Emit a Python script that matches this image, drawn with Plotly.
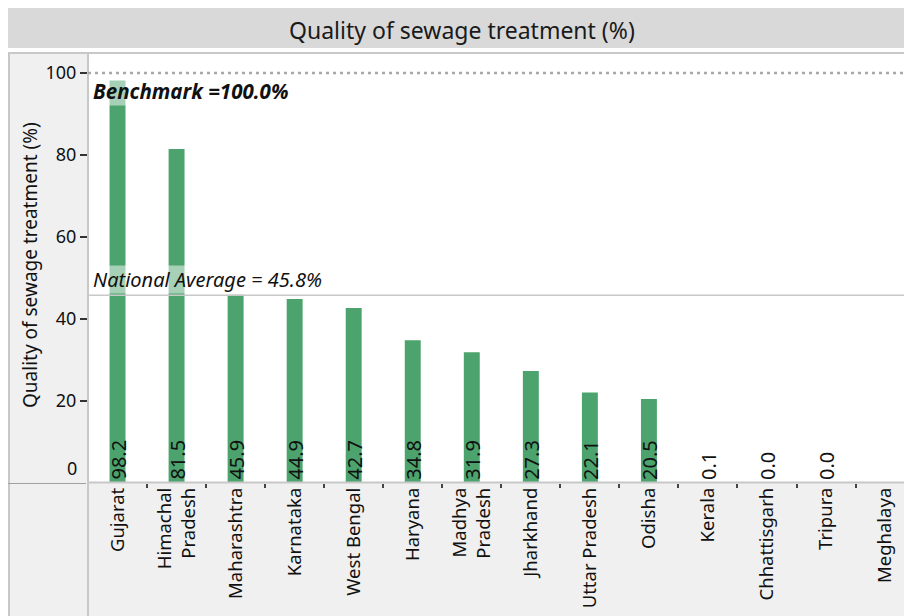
import plotly.graph_objects as go

states = ["Gujarat", "Himachal<br>Pradesh", "Maharashtra", "Karnataka", "West Bengal",
          "Haryana", "Madhya<br>Pradesh", "Jharkhand", "Uttar Pradesh", "Odisha",
          "Kerala", "Chhattisgarh", "Tripura", "Meghalaya"]
values = [98.2, 81.5, 45.9, 44.9, 42.7, 34.8, 31.9, 27.3, 22.1, 20.5, 0.1, 0.0, 0.0, None]
national_avg = 45.8
benchmark = 100.0
y_ticks = [20, 40, 60, 80, 100]

W, H = 904, 616
L, R, T, B = 88, 0, 55, 133
pw, ph = W - L - R, H - T - B

def px(x):
    return (x - L) / pw

def py(y):
    return (H - B - y) / ph

FONT = "Noto Sans"
GREEN = "#4ca36d"
TXT = "#111111"

fig = go.Figure()
fig.add_trace(go.Bar(x=states, y=values, marker_color=GREEN,
                     marker_line_width=0, hoverinfo="skip"))

shapes = []
shapes.append(dict(type="rect", xref="paper", yref="paper", x0=px(8), x1=px(W),
                   y0=py(48), y1=py(8), fillcolor="#d9d9d9", line_width=0, layer="below"))
shapes.append(dict(type="rect", xref="paper", yref="paper", x0=px(8), x1=px(88),
                   y0=py(H), y1=py(53), fillcolor="#f0f0f0", line_width=0, layer="below"))
shapes.append(dict(type="rect", xref="paper", yref="paper", x0=px(8), x1=px(W),
                   y0=py(H), y1=py(483), fillcolor="#f0f0f0", line_width=0, layer="below"))
shapes.append(dict(type="line", xref="paper", yref="paper", x0=px(8), x1=px(W),
                   y0=py(53), y1=py(53), line=dict(color="#c8c8c8", width=2)))
shapes.append(dict(type="line", xref="paper", yref="paper", x0=px(9), x1=px(9),
                   y0=py(53), y1=py(H), line=dict(color="#c8c8c8", width=2)))
shapes.append(dict(type="line", xref="paper", yref="paper", x0=px(88), x1=px(88),
                   y0=py(53), y1=py(H), line=dict(color="#c8c8c8", width=2)))
shapes.append(dict(type="line", xref="paper", yref="paper", x0=px(88), x1=px(W),
                   y0=py(482.5), y1=py(482.5), line=dict(color="#c8c8c8", width=2)))
shapes.append(dict(type="line", xref="paper", yref="paper", x0=px(8), x1=px(86),
                   y0=py(483.5), y1=py(483.5), line=dict(color="#a0a0a0", width=1)))
shapes.append(dict(type="line", xref="paper", yref="y", x0=0, x1=1, y0=benchmark, y1=benchmark,
                   line=dict(color="#a8a8a8", width=2.5, dash="3px,4px")))
shapes.append(dict(type="line", xref="paper", yref="y", x0=0, x1=1, y0=national_avg, y1=national_avg,
                   line=dict(color="#c8c8c8", width=1.5)))

annotations = []
annotations.append(dict(text="Quality of sewage treatment (%)", xref="paper", yref="paper",
                        x=px(462), y=py(30), xanchor="center", yanchor="middle", showarrow=False,
                        font=dict(family=FONT, size=23, color="#1a1a1a")))
annotations.append(dict(text="Quality of sewage treatment (%)", xref="paper", yref="paper",
                        x=px(30), y=py(265), xanchor="center", yanchor="middle", textangle=-90,
                        showarrow=False, font=dict(family=FONT, size=19, color=TXT)))
annotations.append(dict(text="<b><i>Benchmark =100.0%</i></b>", xref="paper", yref="y",
                        x=px(92), y=benchmark, xanchor="left", yanchor="top", yshift=-3,
                        showarrow=False, bgcolor="rgba(255,255,255,0.5)", borderpad=0,
                        font=dict(family=FONT, size=20.5, color=TXT)))
annotations.append(dict(text="<i>National Average = 45.8%</i>", xref="paper", yref="y",
                        x=px(92), y=national_avg, xanchor="left", yanchor="bottom", yshift=1,
                        showarrow=False, bgcolor="rgba(255,255,255,0.5)", borderpad=0,
                        font=dict(family=FONT, size=20, color=TXT)))
annotations.append(dict(text="0", xref="paper", yref="y", x=px(79), y=0, xanchor="right",
                        yanchor="bottom", yshift=1, showarrow=False,
                        font=dict(family=FONT, size=18, color=TXT)))
for s, v in zip(states, values):
    if v is None:
        continue
    annotations.append(dict(text=f"{v:.1f}", x=s, y=0, xref="x", yref="y", textangle=-90,
                            xanchor="center", yanchor="bottom", yshift=1, showarrow=False,
                            font=dict(family=FONT, size=20, color=TXT)))

fig.update_layout(
    width=W, height=H, margin=dict(l=L, r=R, t=T, b=B, pad=0),
    paper_bgcolor="white", plot_bgcolor="white", showlegend=False,
    font=dict(family=FONT, size=16, color=TXT),
    bargap=0.73, shapes=shapes, annotations=annotations,
    xaxis=dict(type="category", tickangle=-90, range=[-0.5, 13.32], ticks="outside",
               tickson="boundaries", ticklen=4, tickwidth=2, tickcolor="#444444",
               showgrid=False, zeroline=False, showline=False,
               tickfont=dict(family=FONT, size=18.5, color=TXT)),
    yaxis=dict(range=[0, 104.4], tickvals=y_ticks, ticks="outside", ticklen=7, tickwidth=1.5,
               tickcolor="#333333", showgrid=False, zeroline=False, showline=False,
               tickfont=dict(family=FONT, size=18, color=TXT)),
)

fig.write_html("out.html", config={"displayModeBar": False}, post_script=(
    "document.documentElement.style.overflow='hidden';"
    "document.body.style.margin='0';"))
